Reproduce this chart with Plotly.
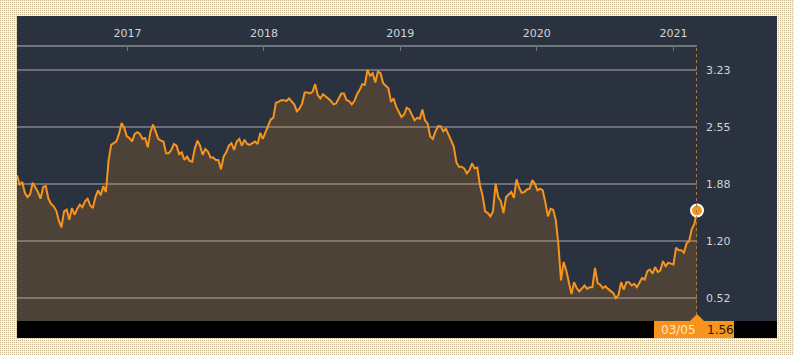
import base64
import pandas as pd
import plotly.graph_objects as go

# ---------------- data (weekly closes) ----------------
start_date = "2016-03-11"
end_date = "2021-03-05"

y2016 = [1.98, 1.87, 1.90,
         1.77, 1.72, 1.75, 1.89, 1.83,
         1.78, 1.70, 1.84, 1.85,
         1.70, 1.64, 1.61, 1.56,
         1.44, 1.36, 1.55, 1.57, 1.45,
         1.59, 1.51, 1.58, 1.63,
         1.60, 1.67, 1.70, 1.62, 1.59,
         1.72, 1.80, 1.74, 1.85,
         1.78, 2.15, 2.34, 2.36,
         2.38, 2.47, 2.60, 2.54, 2.44]
y2017 = [2.42, 2.38, 2.47, 2.49,
         2.47, 2.41, 2.42, 2.31,
         2.49, 2.58, 2.50, 2.41, 2.39,
         2.38, 2.24, 2.24, 2.28,
         2.35, 2.33, 2.23, 2.25,
         2.16, 2.20, 2.15, 2.14, 2.30,
         2.39, 2.33, 2.22, 2.29,
         2.26, 2.19, 2.19, 2.16,
         2.16, 2.05, 2.20, 2.25, 2.33,
         2.36, 2.28, 2.38, 2.41,
         2.33, 2.40, 2.35, 2.34,
         2.36, 2.38, 2.35, 2.48, 2.41]
y2018 = [2.48, 2.55, 2.64, 2.66,
         2.84, 2.85, 2.87, 2.87,
         2.86, 2.89, 2.85, 2.82, 2.74,
         2.77, 2.83, 2.96, 2.96,
         2.95, 2.97, 3.06, 2.93,
         2.89, 2.94, 2.92, 2.89, 2.86,
         2.82, 2.83, 2.89, 2.95,
         2.95, 2.87, 2.86, 2.82, 2.86,
         2.94, 2.99, 3.06, 3.05,
         3.23, 3.16, 3.19, 3.08,
         3.21, 3.19, 3.07, 3.04, 3.01,
         2.85, 2.89, 2.79, 2.72]
y2019 = [2.67, 2.70, 2.78, 2.76,
         2.69, 2.63, 2.66, 2.65,
         2.76, 2.63, 2.59, 2.44, 2.41,
         2.50, 2.56, 2.56, 2.50,
         2.53, 2.46, 2.39, 2.32, 2.13,
         2.08, 2.08, 2.06, 2.00,
         2.04, 2.12, 2.06, 2.07,
         1.86, 1.74, 1.55, 1.53, 1.49,
         1.55, 1.88, 1.72, 1.67,
         1.53, 1.72, 1.75, 1.78,
         1.71, 1.93, 1.83, 1.77, 1.78,
         1.81, 1.82, 1.92, 1.88]
y2020 = [1.80, 1.82, 1.80, 1.66, 1.49,
         1.58, 1.57, 1.45, 1.16,
         0.73, 0.95, 0.85, 0.70,
         0.57, 0.71, 0.64, 0.60,
         0.63, 0.67, 0.63, 0.65, 0.65,
         0.88, 0.70, 0.68, 0.64,
         0.66, 0.63, 0.61, 0.58, 0.52,
         0.56, 0.71, 0.62, 0.71,
         0.71, 0.67, 0.69, 0.65,
         0.70, 0.76, 0.74, 0.84, 0.86,
         0.81, 0.89, 0.83, 0.85,
         0.96, 0.90, 0.94, 0.93]
y2021 = [0.92, 1.12, 1.09, 1.09, 1.06, 1.17, 1.20, 1.34, 1.40, 1.56]

y_tick_text = ["0.52", "1.20", "1.88", "2.55", "3.23"]

values = y2016 + y2017 + y2018 + y2019 + y2020 + y2021
dates = pd.date_range(start_date, end_date, freq="W-FRI")
assert len(dates) == len(values), (len(dates), len(values))

# ---------------- scales ----------------
vmin, vmax = min(values), max(values)
span = vmax - vmin
y_range = [vmin - 0.1 * span, vmax + 0.1 * span]
y_tick_vals = [vmin + i * span / 4 for i in range(5)]

W, H = 794, 355
ML, MR, MT, MB = 17, 97, 47, 34
PW, PH = W - ML - MR, H - MT - MB

def px_x(px):
    return (px - ML) / PW

def px_y(py):
    return (H - MB - py) / PH

PANEL = "#29323e"
ORANGE = "#f7941d"
TXT = "#d2d4d6"
GRID = "#6b7077"
FONT = "DejaVu Sans"

fig = go.Figure()
fig.add_trace(go.Scatter(
    x=dates, y=values, mode="lines",
    line=dict(color=ORANGE, width=2),
    fill="tozeroy", fillcolor="rgba(247,148,29,0.17)",
    hoverinfo="skip", showlegend=False,
))
fig.add_trace(go.Scatter(
    x=[dates[-1]], y=[values[-1]], mode="markers",
    marker=dict(color=ORANGE, size=12, line=dict(color="white", width=2)),
    hoverinfo="skip", showlegend=False, cliponaxis=False,
))

# dotted background pattern
svg = ('<svg xmlns="http://www.w3.org/2000/svg" width="794" height="355">'
       '<defs><pattern id="p" width="2" height="2" patternUnits="userSpaceOnUse">'
       '<rect width="2" height="2" fill="#fff6da"/>'
       '<rect width="1" height="1" fill="#c9b894"/></pattern></defs>'
       '<rect width="794" height="355" fill="url(#p)"/></svg>')
src = "data:image/svg+xml;base64," + base64.b64encode(svg.encode()).decode()

shapes = [
    # dark panel
    dict(type="rect", xref="paper", yref="paper", layer="below",
         x0=px_x(17), x1=px_x(777), y0=px_y(338), y1=px_y(16),
         fillcolor=PANEL, line=dict(width=0)),
    # black footer bar
    dict(type="rect", xref="paper", yref="paper", layer="above",
         x0=px_x(17), x1=px_x(777), y0=px_y(338), y1=px_y(321),
         fillcolor="#000000", line=dict(width=0)),
    # orange value tag
    dict(type="rect", xref="paper", yref="paper", layer="above",
         x0=px_x(654), x1=px_x(734), y0=px_y(338), y1=px_y(321),
         fillcolor=ORANGE, line=dict(width=0)),
    dict(type="path", xref="paper", yref="paper", layer="above",
         path=f"M {px_x(690)},{px_y(321)} L {px_x(697)},{px_y(314)} L {px_x(704)},{px_y(321)} Z",
         fillcolor=ORANGE, line=dict(width=0)),
    # dotted current-date line
    dict(type="line", xref="x", yref="paper", layer="above",
         x0=dates[-1], x1=dates[-1], y0=px_y(315), y1=1,
         line=dict(color="#a47a4c", width=2, dash="dot")),
]

annotations = [
    dict(xref="paper", yref="paper", x=px_x(678), y=px_y(330), showarrow=False,
         text=dates[-1].strftime("%m/%d"), xanchor="center", yanchor="middle",
         font=dict(family=FONT, size=12, color="#fde7c6")),
    dict(xref="paper", yref="paper", x=px_x(720), y=px_y(330), showarrow=False,
         text=f"{values[-1]:.2f}", xanchor="center", yanchor="middle",
         font=dict(family=FONT, size=12, color="#2a180a")),
]

fig.update_layout(
    width=W, height=H,
    margin=dict(l=ML, r=MR, t=MT, b=MB, pad=0),
    paper_bgcolor="#f1e6c8",
    plot_bgcolor=PANEL,
    font=dict(family=FONT, size=11, color=TXT),
    showlegend=False,
    hovermode=False,
    shapes=shapes,
    annotations=annotations,
    images=[dict(source=src, xref="paper", yref="paper",
                 x=px_x(0), y=px_y(0), sizex=W / PW, sizey=H / PH,
                 xanchor="left", yanchor="top", sizing="stretch", layer="below")],
    xaxis=dict(
        side="top", range=[dates[0], dates[-1]], type="date",
        showgrid=False, zeroline=False,
        showline=True, linecolor="#6f757c", linewidth=2,
        ticks="inside", ticklen=4, tickcolor="#6f757c", tickwidth=1,
        tick0="2017-01-01", dtick="M12", tickformat="%Y",
        tickfont=dict(family=FONT, size=11, color=TXT),
        ticklabelstandoff=4,
        fixedrange=True,
    ),
    yaxis=dict(
        side="right", range=y_range,
        tickvals=y_tick_vals, ticktext=y_tick_text,
        showgrid=True, gridcolor=GRID, gridwidth=1.5,
        zeroline=False, showline=False, ticks="",
        tickfont=dict(family=FONT, size=11, color=TXT),
        ticklabelstandoff=8,
        fixedrange=True,
    ),
)

fig.write_html(
    "out.html",
    config={"displayModeBar": False},
    post_script="document.body.style.margin='0';document.body.style.overflow='hidden';",
)
